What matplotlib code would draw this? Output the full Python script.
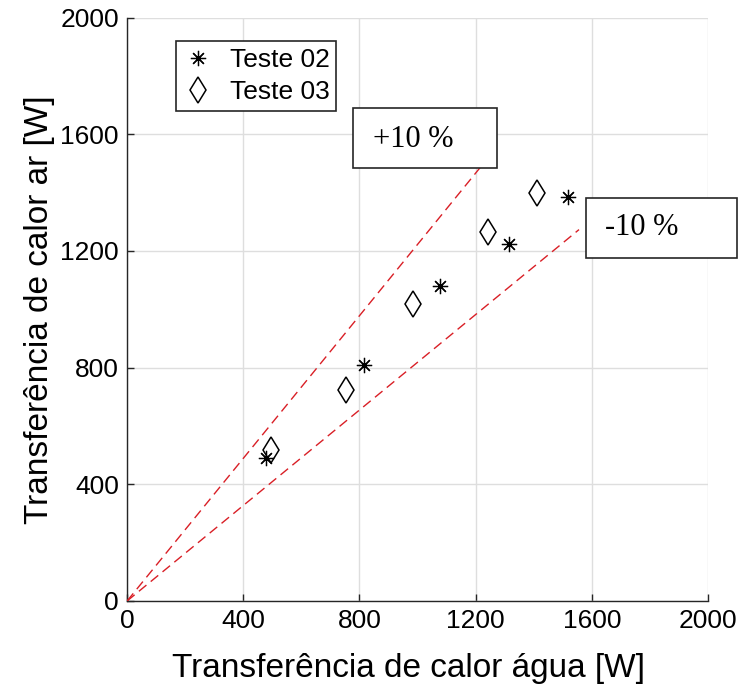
import numpy as np
import matplotlib.pyplot as plt
from matplotlib.patches import Rectangle

# Dados
agua_t02 = [477, 815, 1078, 1315, 1519]
ar_t02 = [490, 809, 1079, 1224, 1386]
agua_t03 = [495, 755, 986, 1242, 1412]
ar_t03 = [518, 724, 1019, 1266, 1400]

# limites de +/-10 %
lim_sup_x = [0, 1215]
lim_inf_x = [0, 1556]
fator_sup = 1.1 / 0.9
fator_inf = 0.9 / 1.1

ticks = [0, 400, 800, 1200, 1600, 2000]

plt.rcParams['font.family'] = ['Liberation Sans', 'DejaVu Sans']

fig = plt.figure(figsize=(7.39, 6.88), dpi=100)
ax = fig.add_axes([0.172, 0.1265, 0.786, 0.848])

asterisco = (8, 2, 0)
ax.plot(agua_t02, ar_t02, linestyle='none', marker=asterisco, markersize=11,
        markeredgewidth=0.9, color='k', label='Teste 02', zorder=4)
ax.plot(agua_t03, ar_t03, linestyle='none', marker='d', markersize=13,
        markeredgewidth=1.1, markerfacecolor='none', color='k',
        label='Teste 03', zorder=4)

vermelho = (0.85, 0.12, 0.15)
xs = np.array(lim_sup_x)
ax.plot(xs, fator_sup * xs, color=vermelho, linewidth=1.0, dashes=(7, 4), zorder=3)
xi = np.array(lim_inf_x)
ax.plot(xi, fator_inf * xi, color=vermelho, linewidth=1.0, dashes=(7, 4), zorder=3)

ax.set_xlim(0, 2000)
ax.set_ylim(0, 2000)
ax.set_xticks(ticks)
ax.set_yticks(ticks)
ax.tick_params(direction='in', length=5, width=1, colors='0.15',
               labelcolor='k', labelsize=19, pad=6)
ax.grid(True, color='0.87', linewidth=1)
ax.set_axisbelow(True)
for s in ['top', 'right']:
    ax.spines[s].set_visible(False)
for s in ['left', 'bottom']:
    ax.spines[s].set_color('0.15')
    ax.spines[s].set_linewidth(1)

ax.set_xlabel('Transferência de calor água [W]', fontsize=24, labelpad=6)
ax.set_ylabel('Transferência de calor ar [W]', fontsize=24, labelpad=4)
ax.xaxis.set_label_coords(0.485, -0.09)

# caixas de texto
ax.add_patch(Rectangle((778, 1485), 496, 206, facecolor='white',
                       edgecolor='0.15', linewidth=1.2, zorder=5, clip_on=False))
ax.text(847, 1582, '+10 %', fontsize=22, family='Liberation Serif',
        va='center', ha='left', zorder=6)
ax.add_patch(Rectangle((1580, 1177), 520, 206, facecolor='white',
                       edgecolor='0.15', linewidth=1.2, zorder=5, clip_on=False))
ax.text(1646, 1280, '-10 %', fontsize=22, family='Liberation Serif',
        va='center', ha='left', zorder=6)

leg = ax.legend(loc='upper left', bbox_to_anchor=(0.084, 0.959), borderaxespad=0,
                fancybox=False, edgecolor='0.15', framealpha=1, fontsize=19,
                handlelength=1.2, handletextpad=0.6, borderpad=0.25,
                labelspacing=0.3)
leg.get_frame().set_linewidth(1.2)

plt.savefig('out.png', dpi=100)
